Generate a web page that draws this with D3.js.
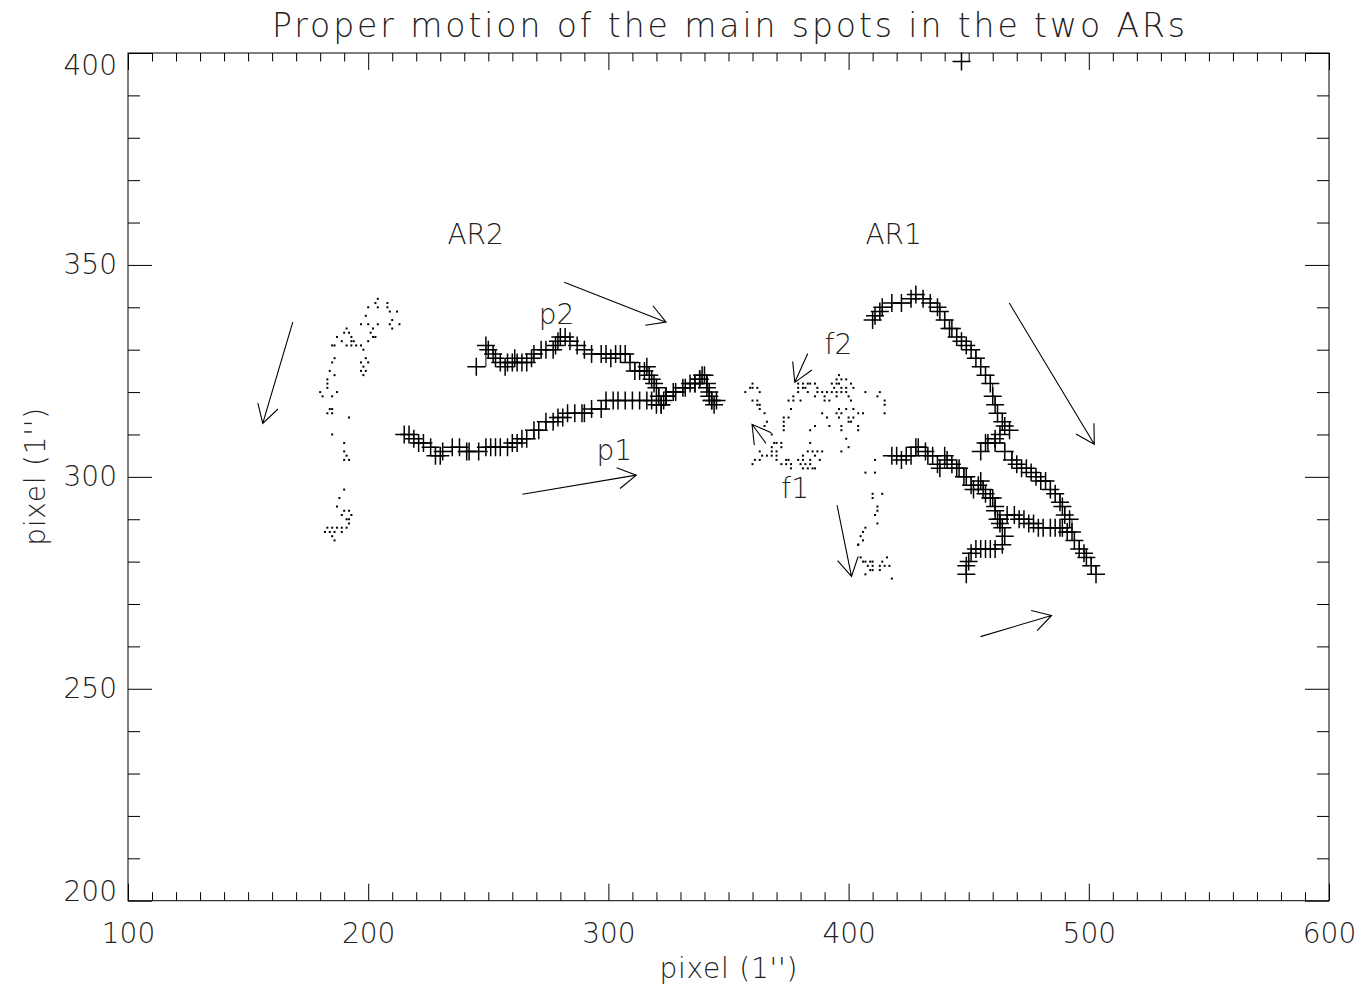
<!DOCTYPE html>
<html>
<head>
<meta charset="utf-8">
<script src="https://cdn.jsdelivr.net/npm/d3@7"></script>
<style>
  body { margin: 0; background: #fff; }
  text { font-family: "DejaVu Sans", sans-serif; font-weight: 200; fill: #222; }
</style>
</head>
<body>
<svg id="chart" width="1358" height="985"></svg>
<script>
// axis ticks
const xMajor = [100, 200, 300, 400, 500, 600];
const yMajor = [200, 250, 300, 350, 400];

// AR2 following spot (dotted track)
const ar2Dots = [
  [204,342],[203,341],[204,340],[208,341],[208,340],[200,340],[199,338],[209,339],[212,339],[210,337],
  [209,336],[213,336],[210,335],[197,336],[200,336],[204,336],[202,335],[201,334],[202,333],[203,333],
  [200,332],[198,330],[191,335],[190,334],[192,334],[193,333],[187,333],[189,332],[193,332],[194,332],
  [185,331],[186,331],[191,331],[193,331],[195,331],[197,331],[186,328],[185,327],[197,327],[200,327],
  [199,328],[198,326],[197,325],[199,325],[198,324],[184,325],[186,324],[183,323],[183,322],[183,321],
  [180,320],[181,319],[187,320],[185,319],[184,316],[185,316],[183,315],[185,315],[192,314],[185,310],
  [190,308],[190,306],[191,305],[190,304],[192,304],[190,297],[188,295],[187,293],[190,292],[192,292],
  [189,291],[193,291],[191,290],[192,290],[192,289],[191,288],[183,288],[185,288],[187,288],[189,288],
  [182,287],[184,287],[186,287],[189,287],[185,286],[186,285]
];

// AR1 following spots f1 / f2 (dotted tracks)
const ar1Dots = [
  [396,324],[395,323],[397,323],[399,323],
  [360,322],[379,322],[381,322],[383,322],[384,322],[386,322],[393,322],[395,322],[396,322],[401,322],
  [359,321],[360,321],[362,321],[379,321],[381,321],[382,321],[387,321],[394,321],[397,321],[399,321],[402,321],
  [357,320],[363,320],[379,320],[383,320],[387,320],[389,320],[391,320],[393,320],[395,320],[397,320],[399,320],[407,320],[413,320],
  [377,319],[386,319],[390,319],[395,319],[400,319],[412,319],
  [360,318],[362,318],[375,318],[377,318],[380,318],[390,318],[392,318],[401,318],[415,318],
  [362,317],[363,317],[415,317],
  [363,316],[376,316],[396,316],[399,316],[402,316],
  [365,315],[389,315],[395,315],[397,315],[404,315],[406,315],[415,315],
  [373,314],[375,314],[391,314],[396,314],[400,314],[402,314],
  [366,313],[373,313],[400,313],[401,313],
  [365,312],[373,312],[386,312],[392,312],[397,312],[404,312],
  [373,311],[384,311],[397,311],[404,311],
  [368,310],[399,309],
  [369,308],[370,308],[372,308],[384,308],
  [368,307],[372,307],[400,307],
  [363,306],[368,306],[370,306],[383,306],[385,306],[387,306],[389,306],[397,306],
  [364,305],[366,305],[368,305],[370,305],[381,305],[386,305],
  [361,304],[363,304],[370,304],[374,304],[375,304],[379,304],[381,304],[384,304],[388,304],[411,304],
  [360,303],[372,303],[374,303],[376,303],[380,303],[382,303],[384,303],
  [376,302],[381,302],[383,302],[385,302],[386,302],
  [407,301],[411,301],
  [410,296],[414,296],[410,295],[412,293],[412,292],[411,291],[412,289],[407,288],[406,287],[405,286],
  [406,285],[404,284],[404,284],
  [405,281],[416,281],
  [406,280],[407,280],[409,280],[410,280],[414,280],
  [408,279],[410,279],[413,279],[415,279],[417,279],
  [409,278],[410,278],[413,278],[407,277],[418,276]
];

// leading spots (plus tracks)
const p1Track = [
  [215,310],[217,310],[219,309],[221,308],[223,308],[226,307],[228,305],[230,305],[231,306],[235,307],
  [238,307],[241,306],[242,306],[246,306],[249,307],[251,307],[253,307],[255,307],[258,307],[260,308],
  [262,308],[264,309],[266,309],[269,311],[271,311],[274,313],[277,313],[279,314],[281,314],[283,315],
  [286,315],[289,315],[290,315],[293,316],[297,316],[299,318],[302,318],[304,318],[307,318],[310,318],
  [313,318],[316,318],[318,318],[320,317],[322,317],[323,318],[324,319],[327,320],[331,321],[334,322],
  [336,322],[338,323],[340,324],[341,321],[342,319],[343,318],[345,318]
];
const p2Track = [
  [245,326],[249,331],[250,330],[252,329],[253,328],[255,327],[257,326],[258,327],[260,327],[261,328],
  [262,327],[264,327],[266,327],[268,328],[269,329],[272,330],[274,330],[277,330],[278,331],[279,332],
  [280,333],[282,333],[284,332],[287,331],[290,330],[293,329],[297,329],[299,329],[301,328],[303,329],
  [305,329],[307,329],[309,327],[311,325],[313,325],[315,325],[316,326],[317,324],[318,323],[319,322],
  [320,321],[321,319],[322,317],[324,319],[328,320],[332,321],[336,322],[338,323],[339,324],[341,322],
  [342,320],[343,318],[344,317]
];
const ar1TrackA = [
  [410,337],[411,338],[413,339],[414,340],[418,341],[422,341],[426,342],[428,343],[431,342],[434,341],
  [437,340],[438,339],[440,337],[442,335],[443,335],[445,333],[447,332],[449,331],[451,330],[453,328],
  [455,326],[457,324],[459,322],[460,319],[461,317],[462,315],[464,313],[465,312],[467,311],[463,310],
  [461,309],[458,308],[455,306],[457,308],[461,308],[465,306],[468,304],[470,303],[472,302],[474,302],
  [476,301],[478,300],[480,299],[482,299],[484,297],[486,296],[488,294],[489,293],[490,291],[492,290],
  [493,287],[494,285],[496,283],[498,282],[499,281],[501,279],[503,277]
];
const ar1TrackB = [
  [418,305],[420,305],[422,304],[424,305],[426,305],[428,307],[429,307],[432,306],[433,305],[435,305],
  [437,303],[438,302],[440,305],[441,304],[443,303],[445,302],[446,302],[448,300],[449,300],[451,298],
  [452,297],[454,298],[455,299],[456,297],[457,296],[459,295],[460,295],[461,293],[461,292],[462,290],
  [463,289],[464,288],[465,286],[464,284],[461,283],[459,283],[457,283],[455,283],[453,283],[451,282],
  [450,280],[449,279],[449,277]
];
const ar1TrackC = [
  [463,290],[466,291],[469,291],[471,290],[473,290],[475,289],[477,289],[479,288],[481,288],[484,288],
  [486,288],[488,288],[489,288],[491,287]
];
const loneSpot = [[447,398]];

// arrows: tail -> head
const arrowTails = [[168.6,336.5],[281.6,345.9],[264.2,295.9],[383.0,329.1],[365.6,307.9],[395.2,293.3],[466.9,341.0],[454.9,262.3]];
const arrowHeads = [[156.1,312.6],[324.0,336.5],[311.6,300.4],[377.6,322.3],[359.8,312.4],[401.2,276.5],[502.3,307.7],[484.5,267.3]];

// annotations
const labelText = ["AR2", "AR1", "p2", "p1", "f2", "f1"];
const labelPos = [[233,355],[407,355],[271,336],[295,304],[390,329],[372,295]];

const svg = d3.select("#chart");
svg.append("rect").attr("width", 1358).attr("height", 985).attr("fill", "#fff");

const x = d3.scaleLinear().domain([100, 600]).range([128, 1329]);
const y = d3.scaleLinear().domain([200, 400]).range([900.7, 53]);

const minorX = d3.range(100, 601, 10).filter(d => d % 100 !== 0);
const minorY = d3.range(200, 401, 10).filter(d => d % 50 !== 0);

function styleAxis(g) {
  g.select(".domain").remove();
  g.selectAll(".tick line").attr("stroke", "#000").attr("stroke-width", 1);
  g.selectAll("text").attr("fill", "#222").style("font-size", "28px");
}

// bottom
svg.append("g").attr("transform", `translate(0,${y(200)})`)
  .call(d3.axisBottom(x).tickValues(xMajor).tickSize(-17).tickPadding(22).tickFormat(d3.format("d")))
  .call(styleAxis);
svg.append("g").attr("transform", `translate(0,${y(200)})`)
  .call(d3.axisBottom(x).tickValues(minorX).tickSize(-8.5).tickFormat(""))
  .call(styleAxis);
// top
svg.append("g").attr("transform", `translate(0,${y(400)})`)
  .call(d3.axisTop(x).tickValues(xMajor).tickSize(-17).tickFormat(""))
  .call(styleAxis);
svg.append("g").attr("transform", `translate(0,${y(400)})`)
  .call(d3.axisTop(x).tickValues(minorX).tickSize(-8.5).tickFormat(""))
  .call(styleAxis);
// left
svg.append("g").attr("transform", `translate(${x(100)},0)`)
  .call(d3.axisLeft(y).tickValues(yMajor).tickSize(-24).tickPadding(11).tickFormat(d3.format("d")))
  .call(styleAxis)
  .selectAll("text").attr("dy", d => d === 400 ? "0.75em" : d === 200 ? "0em" : "0.32em");
svg.append("g").attr("transform", `translate(${x(100)},0)`)
  .call(d3.axisLeft(y).tickValues(minorY).tickSize(-12).tickFormat(""))
  .call(styleAxis);
// right
svg.append("g").attr("transform", `translate(${x(600)},0)`)
  .call(d3.axisRight(y).tickValues(yMajor).tickSize(-24).tickFormat(""))
  .call(styleAxis);
svg.append("g").attr("transform", `translate(${x(600)},0)`)
  .call(d3.axisRight(y).tickValues(minorY).tickSize(-12).tickFormat(""))
  .call(styleAxis);

// frame
svg.append("rect")
  .attr("x", x(100)).attr("y", y(400))
  .attr("width", x(600) - x(100)).attr("height", y(200) - y(400))
  .attr("fill", "none").attr("stroke", "#000").attr("stroke-width", 1);

// titles
svg.append("text").attr("x", (x(100) + x(600)) / 2).attr("y", 37)
  .attr("text-anchor", "middle").style("font-size", "33px")
  .attr("textLength", 913).attr("lengthAdjust", "spacing")
  .text("Proper motion of the main spots in the two ARs");
svg.append("text").attr("x", (x(100) + x(600)) / 2).attr("y", 978)
  .attr("text-anchor", "middle").style("font-size", "28px")
  .attr("textLength", 138).attr("lengthAdjust", "spacing")
  .text("pixel (1'')");
svg.append("text")
  .attr("transform", `translate(45,${(y(200) + y(400)) / 2}) rotate(-90)`)
  .attr("text-anchor", "middle").style("font-size", "28px")
  .attr("textLength", 138).attr("lengthAdjust", "spacing")
  .text("pixel (1'')");

// dotted tracks
const dots = ar2Dots.concat(ar1Dots);
svg.append("g").selectAll("rect").data(dots).enter().append("rect")
  .attr("x", d => x(d[0]) - 1).attr("y", d => y(d[1]) - 1)
  .attr("width", 2).attr("height", 2).attr("fill", "#000");

// plus tracks
const line = d3.line().x(d => x(d[0])).y(d => y(d[1])).curve(d3.curveStepAfter);
const tracks = [p1Track, p2Track, ar1TrackA, ar1TrackB, ar1TrackC, loneSpot];
const tg = svg.append("g");
tracks.forEach(function(t) {
  tg.append("path").attr("d", line(t)).attr("fill", "none").attr("stroke", "#000").attr("stroke-width", 1);
  tg.selectAll(null).data(t).enter().append("path")
    .attr("d", d => `M${x(d[0]) - 9},${y(d[1])}H${x(d[0]) + 9}M${x(d[0])},${y(d[1]) - 9}V${y(d[1]) + 9}`)
    .attr("stroke", "#000").attr("stroke-width", 1.5).attr("fill", "none");
});

// arrows
const ag = svg.append("g");
arrowTails.forEach(function(t, i) {
  const h = arrowHeads[i];
  const x0 = x(t[0]), y0 = y(t[1]), x1 = x(h[0]), y1 = y(h[1]);
  const ang = Math.atan2(y0 - y1, x0 - x1);
  const len = 21, spread = Math.PI / 6;
  const w1 = [x1 + len * Math.cos(ang + spread), y1 + len * Math.sin(ang + spread)];
  const w2 = [x1 + len * Math.cos(ang - spread), y1 + len * Math.sin(ang - spread)];
  ag.append("path")
    .attr("d", `M${x0},${y0}L${x1},${y1}M${w1[0]},${w1[1]}L${x1},${y1}L${w2[0]},${w2[1]}`)
    .attr("stroke", "#000").attr("stroke-width", 1.1).attr("fill", "none");
});

// labels
svg.append("g").selectAll("text").data(labelText).enter().append("text")
  .attr("x", (d, i) => x(labelPos[i][0])).attr("y", (d, i) => y(labelPos[i][1]))
  .style("font-size", "28px")
  .text(d => d);
</script>
</body>
</html>
